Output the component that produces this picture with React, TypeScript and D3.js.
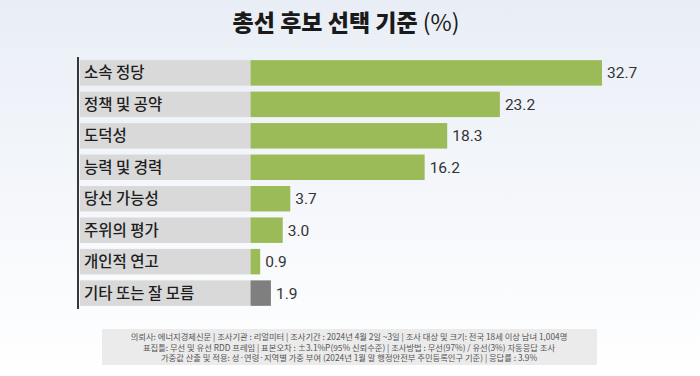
import React from "react";
import * as d3 from "d3";

const categories = ["소속 정당", "정책 및 공약", "도덕성", "능력 및 경력", "당선 가능성", "주위의 평가", "개인적 연고", "기타 또는 잘 모름"];
const values = [32.7, 23.2, 18.3, 16.2, 3.7, 3.0, 0.9, 1.9];
const barColors = ["#9bbb59", "#9bbb59", "#9bbb59", "#9bbb59", "#9bbb59", "#9bbb59", "#9bbb59", "#7f7f7f"];
const titleMain = "총선 후보 선택 기준";
const titleUnit = "(%)";
const footLines = [
  "의뢰사: 에너지경제신문  | 조사기관 : 리얼미터   |  조사기간 : 2024년 4월 2일 ~3일 | 조사 대상 및 크기: 전국 18세 이상 남녀 1,004명",
  "표집틀: 무선 및 유선 RDD 프레임 | 표본오차 : ±3.1%P(95%  신뢰수준) | 조사방법 : 무선(97%) / 유선(3%)  자동응답 조사",
  "가중값 산출 및 적용: 성·연령·지역별  가중 부여 (2024년 1월 말 행정안전부  주민등록인구  기준) | 응답률 : 3.9%",
];

export default function App() {
  const W = 700, H = 376;
  const x0 = 250.5;
  const x = d3.scaleLinear().domain([0, 32.7]).range([x0, 602]);
  const y = d3.scaleBand().domain(categories).range([57, 309]).paddingInner(0.19).paddingOuter(0.1);
  const font = "'Noto Sans CJK KR', 'Noto Sans', sans-serif";
  return (
    <svg width={W} height={H} style={{ position: "absolute", left: 0, top: 0 }}>
      <defs>
        <linearGradient id="bg" x1="0" y1="0" x2="0" y2="1">
          <stop offset="0" stopColor="#e9eef6" />
          <stop offset="1" stopColor="#ffffff" />
        </linearGradient>
      </defs>
      <rect x={0} y={0} width={W} height={H} fill="url(#bg)" />
      <text x={346} y={31} textAnchor="middle" fontFamily={font} fontSize={23} fill="#1a1a1a">
        <tspan fontWeight={900}>{titleMain}</tspan>
        <tspan fontWeight={400} dx={5}>{titleUnit}</tspan>
      </text>
      {categories.map((c, i) => {
        const yy = y(c)!;
        const bh = y.bandwidth();
        return (
          <g key={c}>
            <rect x={80} y={yy} width={x0 - 80} height={bh} fill="#d9d9d9" />
            <rect x={x0} y={yy} width={x(values[i]) - x0} height={bh} fill={barColors[i]} />
            <text x={84} y={yy + bh / 2 + 5.5} fontFamily={font} fontSize={15.5} fontWeight={500} fill="#1e1e1e">{c}</text>
            <text x={x(values[i]) + 5} y={yy + bh / 2 + 5.5} fontFamily="Roboto, 'Noto Sans', sans-serif" fontSize={15.5} fill="#333">{values[i].toFixed(1)}</text>
          </g>
        );
      })}
      <line x1={78} x2={78} y1={57} y2={309} stroke="#222" strokeWidth={1.8} />
      <rect x={102} y={329} width={495} height={36} fill="#ebebeb" />
      {footLines.map((l, i) => (
        <text key={i} x={349} y={340 + i * 10.6} textAnchor="middle" fontFamily={font} fontSize={8.3} fill="#555">{l}</text>
      ))}
    </svg>
  );
}
